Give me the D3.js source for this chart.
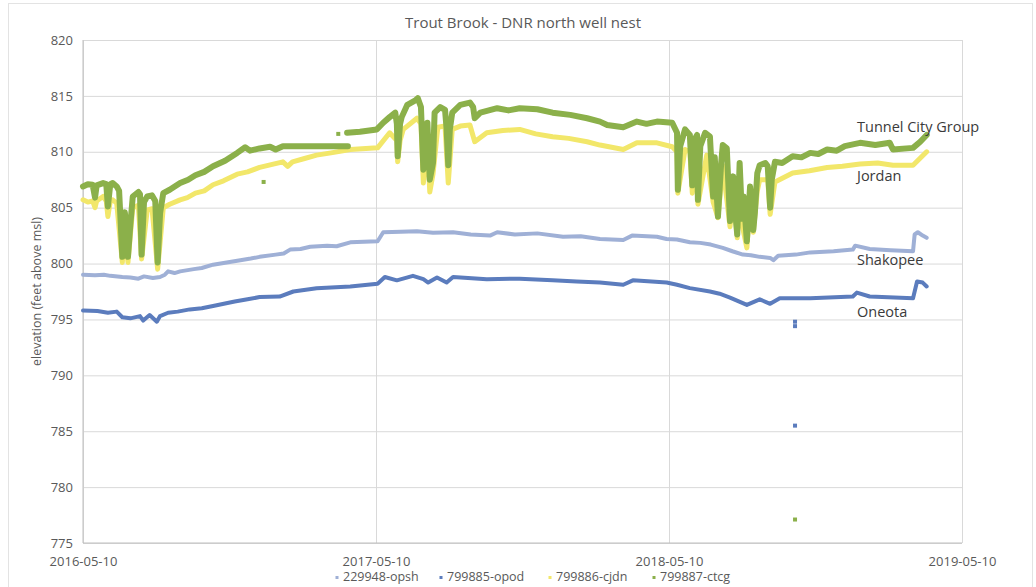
<!DOCTYPE html>
<html>
<head>
<meta charset="utf-8">
<script src="https://cdn.jsdelivr.net/npm/d3@7"></script>
<style>
  html, body { margin: 0; padding: 0; background: #fff; }
  svg text { font-family: "Open Sans", "Liberation Sans", sans-serif; }
</style>
</head>
<body>
<svg id="chart" width="1036" height="587"></svg>
<script>
// ---------------- DATA ----------------
const chartTitle = "Trout Brook - DNR north well nest";
const yTitle = "elevation (feet above msl)";
const xTickLabels = ["2016-05-10", "2017-05-10", "2018-05-10", "2019-05-10"];
const yTickValues = [775, 780, 785, 790, 795, 800, 805, 810, 815, 820];
const seriesNames = ["229948-opsh", "799885-opod", "799886-cjdn", "799887-ctcg"];
const unitLabels = ["Shakopee", "Oneota", "Jordan", "Tunnel City Group"];

// 229948-opsh (Shakopee)
const opsh = [
  ["2016-05-10", 799.0], ["2016-05-25", 798.95], ["2016-06-05", 799.0], ["2016-06-13", 798.9], ["2016-06-28", 798.8],
  ["2016-07-08", 798.75], ["2016-07-18", 798.65], ["2016-07-25", 798.85], ["2016-08-05", 798.7], ["2016-08-14", 798.8], ["2016-08-20", 799.0],
  ["2016-08-24", 799.3], ["2016-09-01", 799.15], ["2016-09-08", 799.3], ["2016-09-25", 799.5], ["2016-10-05", 799.6], ["2016-10-19", 799.9],
  ["2016-11-05", 800.1], ["2016-11-22", 800.3], ["2016-12-05", 800.45], ["2016-12-16", 800.6], ["2017-01-05", 800.8],
  ["2017-01-15", 800.9], ["2017-01-23", 801.25], ["2017-02-05", 801.3], ["2017-02-17", 801.5], ["2017-03-10", 801.6], ["2017-03-22", 801.55], ["2017-04-08", 801.9],
  ["2017-04-25", 801.95], ["2017-05-12", 802.0], ["2017-05-19", 802.8], ["2017-06-10", 802.85], ["2017-06-30", 802.9],
  ["2017-07-20", 802.75], ["2017-08-14", 802.8], ["2017-09-05", 802.6], ["2017-09-29", 802.5],
  ["2017-10-08", 802.8], ["2017-10-30", 802.6], ["2017-11-27", 802.7], ["2017-12-29", 802.4],
  ["2018-01-20", 802.45], ["2018-02-13", 802.2], ["2018-03-14", 802.1], ["2018-03-25", 802.5],
  ["2018-04-25", 802.4], ["2018-05-07", 802.2], ["2018-05-20", 802.15], ["2018-06-05", 801.9], ["2018-06-18", 801.85], ["2018-07-01", 801.7],
  ["2018-07-16", 801.4], ["2018-07-28", 801.1], ["2018-08-10", 800.8], ["2018-08-20", 800.75], ["2018-08-31", 800.6], ["2018-09-13", 800.5],
  ["2018-09-17", 800.3], ["2018-09-23", 800.7], ["2018-10-15", 800.8], ["2018-11-02", 801.0],
  ["2018-12-01", 801.1], ["2018-12-25", 801.25], ["2018-12-28", 801.6], ["2019-01-15", 801.3],
  ["2019-02-10", 801.2], ["2019-03-10", 801.1], ["2019-03-12", 802.6], ["2019-03-16", 802.8],
  ["2019-03-22", 802.5], ["2019-03-27", 802.3]
];

// 799885-opod (Oneota)
const opod = [
  ["2016-05-10", 795.8], ["2016-05-28", 795.75], ["2016-06-10", 795.6], ["2016-06-21", 795.7], ["2016-06-28", 795.2],
  ["2016-07-08", 795.1], ["2016-07-20", 795.3], ["2016-07-24", 794.9], ["2016-08-01", 795.4],
  ["2016-08-10", 794.8], ["2016-08-14", 795.3], ["2016-08-24", 795.6], ["2016-09-05", 795.7], ["2016-09-20", 795.9],
  ["2016-10-05", 796.0], ["2016-10-19", 796.2], ["2016-11-15", 796.6], ["2016-12-01", 796.8], ["2016-12-16", 797.0], ["2017-01-10", 797.05],
  ["2017-01-27", 797.5], ["2017-02-25", 797.8], ["2017-03-15", 797.85], ["2017-04-08", 797.95], ["2017-05-12", 798.2],
  ["2017-05-21", 798.8], ["2017-06-05", 798.5], ["2017-06-25", 798.9], ["2017-07-08", 798.6],
  ["2017-07-14", 798.3], ["2017-07-25", 798.75], ["2017-08-06", 798.3], ["2017-08-14", 798.8],
  ["2017-09-25", 798.6], ["2017-11-05", 798.65], ["2017-12-16", 798.5], ["2018-01-15", 798.4],
  ["2018-02-13", 798.3], ["2018-03-14", 798.1], ["2018-03-26", 798.5], ["2018-05-07", 798.3],
  ["2018-05-20", 798.1], ["2018-06-05", 797.8], ["2018-06-30", 797.5], ["2018-07-12", 797.3], ["2018-07-25", 796.95], ["2018-08-15", 796.3],
  ["2018-08-31", 796.8], ["2018-09-13", 796.4], ["2018-09-25", 796.9], ["2018-11-02", 796.9],
  ["2018-12-25", 797.05], ["2018-12-30", 797.4], ["2019-01-15", 797.05], ["2019-03-10", 796.9],
  ["2019-03-15", 798.4], ["2019-03-22", 798.3], ["2019-03-27", 797.95]
];
const opodOutliers = [["2018-10-14", 794.8], ["2018-10-14", 794.4], ["2018-10-14", 785.5]];

// 799886-cjdn (Jordan)
const cjdn = [
  ["2016-05-10", 805.7], ["2016-05-16", 805.5], ["2016-05-22", 805.6], ["2016-05-25", 805.0],
  ["2016-05-27", 805.6], ["2016-06-04", 806.0], ["2016-06-08", 805.6], ["2016-06-10", 804.2],
  ["2016-06-13", 805.6], ["2016-06-16", 805.7], ["2016-06-21", 805.4], ["2016-06-28", 800.1],
  ["2016-07-01", 804.0], ["2016-07-05", 800.1], ["2016-07-11", 805.0], ["2016-07-18", 805.2],
  ["2016-07-22", 800.4], ["2016-07-29", 804.8], ["2016-08-04", 804.9], ["2016-08-11", 799.5],
  ["2016-08-18", 805.0], ["2016-08-26", 805.3], ["2016-09-08", 805.7], ["2016-09-17", 805.9], ["2016-09-27", 806.3],
  ["2016-10-08", 806.5], ["2016-10-19", 807.05], ["2016-11-01", 807.4], ["2016-11-18", 808.0], ["2016-12-01", 808.2], ["2016-12-16", 808.6], ["2017-01-14", 809.1],
  ["2017-01-20", 808.7], ["2017-01-26", 809.1], ["2017-02-10", 809.4], ["2017-02-25", 809.7], ["2017-03-15", 809.9], ["2017-04-08", 810.2],
  ["2017-05-12", 810.35], ["2017-05-27", 811.7], ["2017-06-05", 811.0], ["2017-06-06", 809.1],
  ["2017-06-09", 811.0], ["2017-06-13", 812.0], ["2017-06-30", 813.0], ["2017-07-05", 812.5],
  ["2017-07-08", 807.2], ["2017-07-13", 811.0], ["2017-07-16", 806.4], ["2017-07-20", 808.0],
  ["2017-07-26", 812.2], ["2017-08-04", 812.3], ["2017-08-08", 807.2], ["2017-08-13", 812.0],
  ["2017-08-23", 812.3], ["2017-09-04", 812.4], ["2017-09-10", 810.9], ["2017-09-25", 811.7],
  ["2017-10-15", 811.9], ["2017-11-05", 812.0], ["2017-11-25", 811.6], ["2017-12-16", 811.35], ["2018-01-05", 811.2], ["2018-01-28", 810.9], ["2018-02-13", 810.6],
  ["2018-03-14", 810.2], ["2018-03-31", 810.8], ["2018-04-25", 810.8], ["2018-05-14", 810.45],
  ["2018-05-20", 810.0], ["2018-05-21", 806.3], ["2018-05-30", 810.2], ["2018-06-05", 810.0],
  ["2018-06-08", 806.3], ["2018-06-14", 809.9], ["2018-06-15", 805.3], ["2018-06-26", 809.7],
  ["2018-07-04", 805.5], ["2018-07-10", 804.1], ["2018-07-16", 808.8], ["2018-07-25", 803.3],
  ["2018-07-29", 806.5], ["2018-08-03", 802.3], ["2018-08-06", 807.5], ["2018-08-09", 803.5],
  ["2018-08-15", 801.4], ["2018-08-19", 805.5], ["2018-08-23", 802.8], ["2018-08-28", 806.5],
  ["2018-08-31", 807.5], ["2018-09-10", 807.5], ["2018-09-13", 804.4], ["2018-09-19", 807.3],
  ["2018-10-11", 808.1], ["2018-11-01", 808.3], ["2018-11-23", 808.6], ["2018-12-12", 808.7], ["2019-01-03", 808.9], ["2019-01-25", 809.0], ["2019-02-13", 808.8],
  ["2019-03-10", 808.8], ["2019-03-27", 810.0]
];

// 799887-ctcg (Tunnel City Group); null marks a break in the record
const ctcg = [
  ["2016-05-10", 806.9], ["2016-05-16", 807.1], ["2016-05-22", 807.05], ["2016-05-25", 805.9],
  ["2016-05-27", 807.0], ["2016-06-04", 807.2], ["2016-06-08", 807.1], ["2016-06-10", 805.1],
  ["2016-06-13", 807.1], ["2016-06-16", 807.2], ["2016-06-21", 806.9], ["2016-06-24", 806.5],
  ["2016-06-28", 800.6], ["2016-06-30", 803.5], ["2016-07-01", 804.6], ["2016-07-04", 803.0],
  ["2016-07-05", 800.6], ["2016-07-08", 803.5], ["2016-07-11", 806.0], ["2016-07-18", 806.4],
  ["2016-07-20", 806.2], ["2016-07-22", 800.8], ["2016-07-25", 805.5], ["2016-07-29", 806.0],
  ["2016-08-04", 806.1], ["2016-08-08", 805.6], ["2016-08-11", 800.1], ["2016-08-14", 804.5],
  ["2016-08-18", 806.3], ["2016-08-26", 806.6], ["2016-09-08", 807.2], ["2016-09-18", 807.5], ["2016-09-27", 807.9],
  ["2016-10-08", 808.2], ["2016-10-19", 808.7], ["2016-11-03", 809.2], ["2016-11-18", 809.9], ["2016-11-28", 810.4],
  ["2016-12-04", 810.1], ["2016-12-16", 810.3], ["2016-12-29", 810.45], ["2017-01-05", 810.2],
  ["2017-01-14", 810.5], ["2017-04-05", 810.5], [null, null],
  ["2017-04-04", 811.7], ["2017-04-20", 811.8], ["2017-05-11", 812.0], ["2017-05-19", 812.6],
  ["2017-05-27", 813.1], ["2017-06-03", 813.5], ["2017-06-05", 812.5], ["2017-06-06", 809.6],
  ["2017-06-09", 812.5], ["2017-06-11", 813.1], ["2017-06-18", 814.2], ["2017-06-28", 814.6],
  ["2017-07-01", 814.8], ["2017-07-05", 814.0], ["2017-07-08", 808.4], ["2017-07-10", 809.0],
  ["2017-07-13", 812.6], ["2017-07-16", 807.5], ["2017-07-20", 809.0], ["2017-07-22", 813.5],
  ["2017-07-29", 814.0], ["2017-08-04", 813.75], ["2017-08-06", 812.0], ["2017-08-08", 808.8],
  ["2017-08-10", 812.0], ["2017-08-13", 813.5], ["2017-08-23", 814.2], ["2017-09-04", 814.4],
  ["2017-09-08", 814.0], ["2017-09-10", 813.0], ["2017-09-17", 813.5], ["2017-10-08", 813.9],
  ["2017-10-22", 813.7], ["2017-11-05", 813.9], ["2017-11-27", 813.8], ["2017-12-16", 813.5], ["2018-01-07", 813.3],
  ["2018-01-28", 813.0], ["2018-02-13", 812.7], ["2018-02-22", 812.4], ["2018-03-14", 812.2],
  ["2018-03-31", 812.7], ["2018-04-12", 812.5], ["2018-04-25", 812.7], ["2018-05-14", 812.6], ["2018-05-20", 811.7],
  ["2018-05-21", 806.6], ["2018-05-24", 810.5], ["2018-05-30", 812.0], ["2018-06-05", 811.5],
  ["2018-06-08", 807.0], ["2018-06-10", 811.0], ["2018-06-14", 811.5], ["2018-06-15", 805.7],
  ["2018-06-18", 810.5], ["2018-06-24", 811.7], ["2018-06-30", 811.35], ["2018-07-04", 806.0],
  ["2018-07-06", 809.5], ["2018-07-10", 804.2], ["2018-07-14", 809.0], ["2018-07-16", 810.6],
  ["2018-07-21", 810.3], ["2018-07-25", 803.8], ["2018-07-29", 807.8], ["2018-07-31", 805.0],
  ["2018-08-03", 802.6], ["2018-08-06", 809.0], ["2018-08-09", 804.0], ["2018-08-11", 806.0],
  ["2018-08-15", 802.0], ["2018-08-19", 806.9], ["2018-08-23", 803.0], ["2018-08-25", 804.6],
  ["2018-08-28", 808.1], ["2018-08-31", 808.8], ["2018-09-07", 809.0], ["2018-09-10", 808.7],
  ["2018-09-13", 805.0], ["2018-09-15", 807.5], ["2018-09-19", 809.1], ["2018-09-28", 809.0], ["2018-10-11", 809.6],
  ["2018-10-22", 809.5], ["2018-11-02", 809.9], ["2018-11-12", 809.8], ["2018-11-23", 810.2], ["2018-12-05", 810.1], ["2018-12-15", 810.5], ["2019-01-03", 810.8],
  ["2019-01-22", 810.6], ["2019-02-09", 810.8], ["2019-02-13", 810.2], ["2019-03-10", 810.35],
  ["2019-03-19", 810.9], ["2019-03-27", 811.5]
];
const ctcgOutliers = [["2016-12-21", 807.3], ["2017-03-24", 811.6], ["2018-10-14", 777.1]];

// label anchor values for the right-hand unit names
const unitLabelValues = [800.2, 795.6, 807.7, 812.15];

// ---------------- DRAWING ----------------
const colors = ["#9fb0d6", "#5b7cbd", "#f2e76a", "#8bb04a"];
const widths = [4, 4, 5, 6];

const svg = d3.select("#chart");
const W = 1036, H = 587;
const M = { left: 83, right: 962, top: 40, bottom: 543 };
const parse = d3.utcParse("%Y-%m-%d");

const x = d3.scaleUtc()
  .domain([parse(xTickLabels[0]), parse(xTickLabels[xTickLabels.length - 1])])
  .range([M.left, M.right]);
const y = d3.scaleLinear().domain([775, 820]).range([M.bottom, M.top]);

// outer border
svg.append("rect").attr("x", 8.5).attr("y", 3.5).attr("width", W - 12).attr("height", H - 2)
  .attr("fill", "#fff").attr("stroke", "#e3e3e3");

// horizontal grid
const yAxis = d3.axisLeft(y).tickValues(yTickValues).tickSize(-(M.right - M.left)).tickPadding(10);
const gy = svg.append("g").attr("transform", `translate(${M.left},0)`).call(yAxis);
gy.select(".domain").remove();
gy.selectAll(".tick line").attr("stroke", "#d9d9d9");
gy.selectAll(".tick text").attr("fill", "#595959")
  .style("font-family", "'Liberation Sans Narrow', 'Open Sans', sans-serif").style("font-size", "13px");

// vertical grid
const xAxis = d3.axisBottom(x).tickValues(xTickLabels.map(parse))
  .tickFormat(d3.utcFormat("%Y-%m-%d")).tickSize(-(M.bottom - M.top)).tickPadding(14);
const gx = svg.append("g").attr("transform", `translate(0,${M.bottom})`).call(xAxis);
gx.select(".domain").remove();
gx.selectAll(".tick line").attr("stroke", "#d9d9d9");
gx.selectAll(".tick text").attr("fill", "#595959")
  .style("font-family", "'Liberation Sans Narrow', 'Open Sans', sans-serif").style("font-size", "13px");

// axis lines (left & bottom)
svg.append("line").attr("x1", M.left).attr("x2", M.left).attr("y1", M.top).attr("y2", M.bottom)
  .attr("stroke", "#bfbfbf");
svg.append("line").attr("x1", M.left).attr("x2", M.right).attr("y1", M.bottom).attr("y2", M.bottom)
  .attr("stroke", "#bfbfbf");

// series lines
const line = d3.line()
  .defined(d => d[0] !== null)
  .x(d => x(parse(d[0])))
  .y(d => y(d[1]));

const allSeries = [opsh, opod, cjdn, ctcg];
allSeries.forEach((s, i) => {
  svg.append("path").datum(s)
    .attr("d", line)
    .attr("fill", "none")
    .attr("stroke", colors[i])
    .attr("stroke-width", widths[i])
    .attr("stroke-linejoin", "round")
    .attr("stroke-linecap", "round");
});

// isolated readings
const outlierSets = [[1, opodOutliers], [3, ctcgOutliers]];
outlierSets.forEach(([i, pts]) => {
  svg.append("g").selectAll("rect").data(pts).join("rect")
    .attr("x", d => x(parse(d[0])) - 2)
    .attr("y", d => y(d[1]) - 2)
    .attr("width", 4).attr("height", 4)
    .attr("fill", colors[i]);
});

// unit labels at right
const unitX = 857;
unitLabels.forEach((t, i) => {
  svg.append("text").attr("x", unitX).attr("y", y(unitLabelValues[i]))
    .attr("dominant-baseline", "middle")
    .attr("fill", "#3a3a3a").style("font-size", "14.5px")
    .text(t);
});

// title
svg.append("text").attr("x", 523).attr("y", 24).attr("text-anchor", "middle")
  .attr("dominant-baseline", "middle").attr("fill", "#595959")
  .style("font-family", "'Liberation Sans Narrow', 'Open Sans', sans-serif")
  .style("font-size", "15px").text(chartTitle);

// y title
svg.append("text")
  .attr("transform", `translate(38,${(M.top + M.bottom) / 2}) rotate(-90)`)
  .attr("text-anchor", "middle").attr("dominant-baseline", "middle")
  .attr("fill", "#595959").style("font-size", "12.5px").text(yTitle);

// legend
const legendX = [337, 441, 550, 654];
const lg = svg.append("g");
seriesNames.forEach((n, i) => {
  lg.append("rect").attr("x", legendX[i] - 1.5).attr("y", 576).attr("width", 3).attr("height", 3)
    .attr("fill", colors[i]);
  lg.append("text").attr("x", legendX[i] + 6).attr("y", 578)
    .attr("dominant-baseline", "middle").attr("fill", "#595959")
    .style("font-family", "'Liberation Sans Narrow', 'Open Sans', sans-serif")
    .style("font-size", "12.5px").text(n);
});
</script>
</body>
</html>
